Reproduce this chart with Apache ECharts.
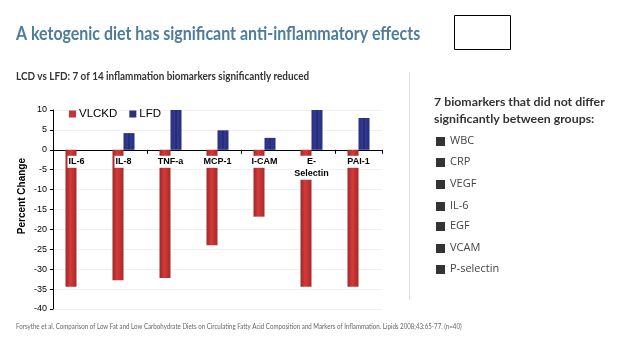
<!DOCTYPE html>
<html><head><meta charset="utf-8">
<script src="https://cdn.jsdelivr.net/npm/echarts@6/dist/echarts.min.js"></script>
<style>html,body{margin:0;padding:0;background:#fff}#c{width:638px;height:359px}</style>
</head><body><div id="c"></div>
<script>
const categories = ['IL-6', 'IL-8', 'TNF-a', 'MCP-1', 'I-CAM', 'E-\nSelectin', 'PAI-1'];
const vlckd = [-34.4, -32.8, -32.2, -24.0, -16.8, -34.4, -34.4];
const lfd = [null, 4.2, 10.2, 4.9, 3.0, 10.2, 8.0];
const yTicks = [10, 5, 0, -5, -10, -15, -20, -25, -30, -35, -40];
const nonSig = ['WBC', 'CRP', 'VEGF', 'IL-6', 'EGF', 'VCAM', 'P-selectin'];

const chart = echarts.init(document.getElementById('c'), null, {renderer: 'canvas'});
const redGrad = new echarts.graphic.LinearGradient(0, 0, 1, 0, [
  {offset: 0, color: '#9e2a2a'}, {offset: 0.45, color: '#d63a3a'}, {offset: 0.6, color: '#c83434'}, {offset: 1, color: '#a32b2b'}]);
const blueGrad = new echarts.graphic.LinearGradient(0, 0, 1, 0, [
  {offset: 0, color: '#2a2f80'}, {offset: 0.42, color: '#333a92'}, {offset: 0.5, color: '#161a50'}, {offset: 0.58, color: '#333a92'}, {offset: 1, color: '#282e7c'}]);

const listGraphics = [];
const listY = [142, 163, 185, 207, 227, 249, 270];
nonSig.forEach((t, i) => {
  listGraphics.push({type: 'rect', left: 436, top: listY[i] - 5, shape: {width: 9, height: 9}, style: {fill: '#333'}});
  listGraphics.push({type: 'text', left: 450, top: listY[i] - 7, style: {text: t, font: '11px "Open Sans"', fill: '#444'}});
});

chart.setOption({
  animation: false,
  grid: {left: 53, right: 256, top: 110, bottom: 50},
  legend: {
    left: 64, top: 103, itemWidth: 7, itemHeight: 7, itemGap: 12, icon: 'rect',
    textStyle: {fontFamily: 'Liberation Sans', fontSize: 11.5, color: '#000', padding: [0, 0, 0, -2]},
    data: [{name: 'VLCKD', itemStyle: {color: '#c83434'}}, {name: 'LFD', itemStyle: {color: '#2a2f80'}}]
  },
  xAxis: {
    type: 'category', data: categories,
    axisLine: {onZero: true, lineStyle: {color: '#000', width: 1}},
    axisTick: {show: true, length: 4, inside: false, lineStyle: {color: '#000'}},
    axisLabel: {show: false}
  },
  yAxis: {
    type: 'value', min: -40, max: 10, interval: 5,
    axisLine: {show: true, lineStyle: {color: '#000'}},
    axisTick: {show: true, length: 3, lineStyle: {color: '#000'}},
    axisLabel: {fontFamily: 'Liberation Sans', fontSize: 9, color: '#000', margin: 6},
    splitLine: {show: true, lineStyle: {color: '#f0f0f0', width: 1}}
  },
  series: [
    {name: 'VLCKD', type: 'bar', data: vlckd, barWidth: 11, barGap: '0%', itemStyle: {color: redGrad}},
    {name: 'LFD', type: 'bar', data: lfd, barWidth: 11, barGap: '0%', itemStyle: {color: blueGrad}},
    {name: 'labels', type: 'scatter', silent: true, symbolSize: 0, z: 5,
      itemStyle: {opacity: 1},
      data: categories.map(c => [c, 0]),
      label: {show: true, position: 'bottom', distance: 6, formatter: p => categories[p.dataIndex], opacity: 1,
        fontFamily: 'Liberation Sans', fontSize: 9, fontWeight: 'bold', color: '#000',
        backgroundColor: '#fff', lineHeight: 12, padding: [0, 1], align: 'center'}}
  ],
  graphic: [
    {type: 'text', left: 16, top: 24, scaleX: 0.84, style: {text: 'A ketogenic diet has significant anti-inflammatory effects', font: 'bold 19px Lato', fill: '#4e7c9b'}},
    {type: 'rect', left: 454, top: 15, shape: {width: 56, height: 34}, style: {fill: '#fff', stroke: '#000', lineWidth: 1}},
    {type: 'text', left: 16, top: 71, scaleX: 0.9, style: {text: 'LCD vs LFD: 7 of 14 inflammation biomarkers significantly reduced', font: 'bold 11px Lato', fill: '#333'}},
    {type: 'line', shape: {x1: 409.5, y1: 72, x2: 409.5, y2: 300}, style: {stroke: '#e0e0e0', lineWidth: 1}},
    {type: 'text', left: 434, top: 94, scaleX: 1.12, style: {text: '7 biomarkers that did not differ\nsignificantly between groups:', font: 'bold 11px Lato', fill: '#333', lineHeight: 17}},
    {type: 'text', left: 17, top: 158, rotation: Math.PI / 2,
      style: {text: 'Percent Change', font: 'bold 10px "Liberation Sans"', fill: '#000'}},
    {type: 'text', left: 16, top: 323, scaleX: 0.88, style: {text: 'Forsythe et al. Comparison of Low Fat and Low Carbohydrate Diets on Circulating Fatty Acid Composition and Markers of Inflammation. Lipids 2008;43:65-77. (n=40)', font: '7px Lato', fill: '#666'}}
  ].concat(listGraphics)
});
</script></body></html>
